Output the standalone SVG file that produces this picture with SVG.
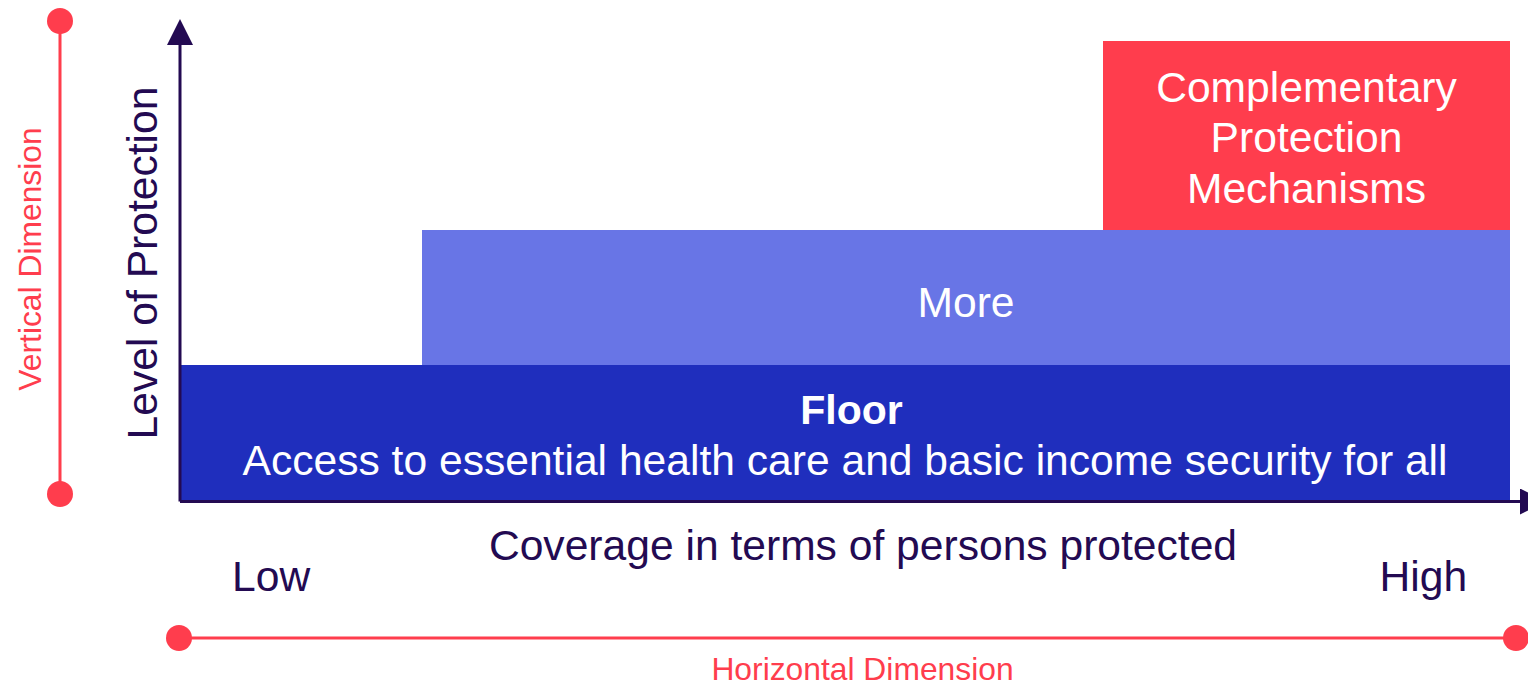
<svg xmlns="http://www.w3.org/2000/svg" width="1528" height="684" viewBox="0 0 1528 684">
<style>
text{font-family:"Liberation Sans",Arial,sans-serif}
.w{fill:#ffffff;font-size:42.6px;text-anchor:middle}
.d{fill:#230A52;font-size:42.6px}
.r{fill:#FF3D4D;font-size:31.8px;text-anchor:middle}
.ax{stroke:#230A52;stroke-width:3;fill:none}
.dim{stroke:#FF3D4D;stroke-width:3;fill:none}
.dot{fill:#FF3D4D}
</style>
<defs>
<marker id="arr" viewBox="0 0 26 26" refX="0" refY="13" markerWidth="26" markerHeight="26" markerUnits="userSpaceOnUse" orient="auto">
<path d="M0,0 L26,13 L0,26 z" fill="#230A52"/>
</marker>
</defs>
<rect width="1528" height="684" fill="#ffffff"/>
<g id="complementary">
<rect x="1103" y="41" width="407" height="189" fill="#FF3D4D"/>
<text class="w" x="1306.5" y="101.5">Complementary</text>
<text class="w" x="1306.5" y="152">Protection</text>
<text class="w" x="1306.5" y="202.5">Mechanisms</text>
</g>
<g id="more">
<rect x="422" y="230" width="1088" height="135" fill="#6875E6"/>
<text class="w" x="966" y="317">More</text>
</g>
<g id="floor">
<rect x="180" y="365" width="1330" height="136.5" fill="#1F2EBD"/>
<text class="w" x="851.5" y="424" style="font-weight:bold;font-size:41px">Floor</text>
<text class="w" x="845" y="475">Access to essential health care and basic income security for all</text>
</g>
<g id="connectors">
<line class="ax" x1="180" y1="501.5" x2="180" y2="45" marker-end="url(#arr)"/>
<line class="ax" x1="180" y1="501.5" x2="1520" y2="501.5" marker-end="url(#arr)"/>
<line class="dim" x1="60" y1="21" x2="60" y2="494"/>
<line class="dim" x1="179" y1="638" x2="1516" y2="638"/>
</g>
<g id="vertical-dimension">
<circle class="dot" cx="60" cy="21" r="13"/>
<circle class="dot" cx="60" cy="494" r="13"/>
<text class="r" transform="translate(40.5,259) rotate(-90)" x="0" y="0">Vertical Dimension</text>
</g>
<g id="horizontal-dimension">
<circle class="dot" cx="179" cy="638" r="13"/>
<circle class="dot" cx="1516" cy="638" r="13"/>
<text class="r" x="862.5" y="680">Horizontal Dimension</text>
</g>
<g id="axis-labels">
<text class="d" transform="translate(157,263) rotate(-90)" x="0" y="0" text-anchor="middle">Level of Protection</text>
<text class="d" x="863" y="560" text-anchor="middle">Coverage in terms of persons protected</text>
<text class="d" x="232" y="591">Low</text>
<text class="d" x="1379.5" y="591">High</text>
</g>
</svg>
